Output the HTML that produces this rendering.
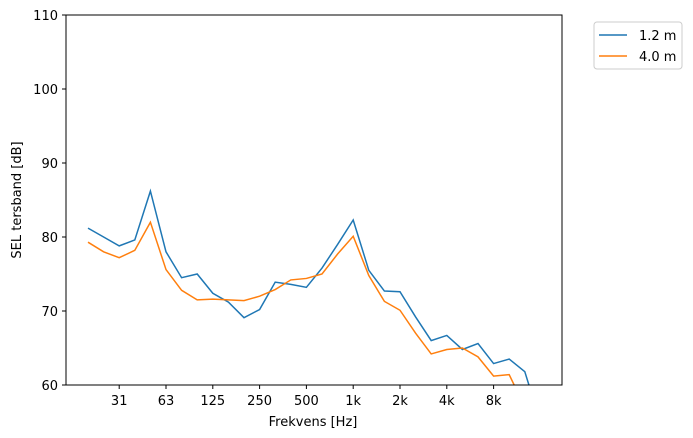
<!DOCTYPE html>
<html><head><meta charset="utf-8"><style>
body{margin:0;background:#fff;}
svg{display:block;font-family:"DejaVu Sans","Liberation Sans",sans-serif;}
</style></head><body>
<svg id="chart" width="693" height="438">
<defs><clipPath id="clip"><rect x="66" y="15" width="496" height="370"/></clipPath></defs>
<g id="axes"></g>
<g id="series" clip-path="url(#clip)"></g>
<rect x="66" y="15" width="496" height="370" fill="none" stroke="#000" stroke-width="1"/>
<text x="313" y="426" font-size="13" text-anchor="middle">Frekvens [Hz]</text>
<text x="21" y="200" font-size="13" text-anchor="middle" transform="rotate(-90 21 200)">SEL tersband [dB]</text>
<g>
<rect x="594" y="22" width="88" height="47" rx="3" fill="#fff" stroke="#ccc"/>
<line x1="599" y1="35" x2="627" y2="35" stroke="#1f77b4" stroke-width="1.5"/>
<text x="639" y="40" font-size="13">1.2 m</text>
<line x1="599" y1="56" x2="627" y2="56" stroke="#ff7f0e" stroke-width="1.5"/>
<text x="639" y="61" font-size="13">4.0 m</text>
</g>
</svg>
<script>
const bandIndex = [0,1,2,3,4,5,6,7,8,9,10,11,12,13,14,15,16,17,18,19,20,21,22,23,24,25,26,27,28,29];
const sel12 = [81.2,80.0,78.8,79.6,86.2,78.0,74.5,75.0,72.4,71.2,69.1,70.2,73.9,73.6,73.2,75.8,79.0,82.3,75.5,72.7,72.6,69.2,66.0,66.7,64.8,65.6,62.9,63.5,61.8,55.0];
const sel40 = [79.3,78.0,77.2,78.2,82.0,75.6,72.8,71.5,71.6,71.5,71.4,72.0,72.9,74.2,74.4,75.0,77.7,80.1,74.8,71.3,70.1,67.0,64.2,64.8,65.0,63.8,61.2,61.4,57.0,54.0];
const xTickIdx = [2,5,8,11,14,17,20,23,26];
const xTickLabels = ["31","63","125","250","500","1k","2k","4k","8k"];
const yTicks = [60,70,80,90,100,110];
const NS="http://www.w3.org/2000/svg";
const xs = i => 88 + 15.6*i;
const ys = v => 385 - (v-60)*7.4;
const axes=document.getElementById('axes'), ser=document.getElementById('series');
function mk(t,a,p){const e=document.createElementNS(NS,t);for(const k in a)e.setAttribute(k,a[k]);p.appendChild(e);return e;}
xTickIdx.forEach((ix,j)=>{
  const x=xs(ix);
  const l=mk('line',{x1:x,y1:385,x2:x,y2:389,stroke:'#000'},axes);
  
  
  const t=mk('text',{x:x,y:405,'font-size':13,'text-anchor':'middle'},axes);
  t.textContent=xTickLabels[j];
  
  
});
yTicks.forEach(v=>{
  const y=ys(v);
  const l=mk('line',{x1:62,y1:y,x2:66,y2:y,stroke:'#000'},axes);
  
  
  const t=mk('text',{x:58,y:y+5,'font-size':13,'text-anchor':'end'},axes);
  t.textContent=v;
  
  
});
function line(vals,color,name){
  const p=mk('polyline',{points:bandIndex.map((i,k)=>xs(i)+','+ys(vals[k])).join(' '),fill:'none',stroke:color,'stroke-width':1.5},ser);
  
  
}
line(sel12,'#1f77b4','series-1-2m');
line(sel40,'#ff7f0e','series-4-0m');
</script>
</body></html>
